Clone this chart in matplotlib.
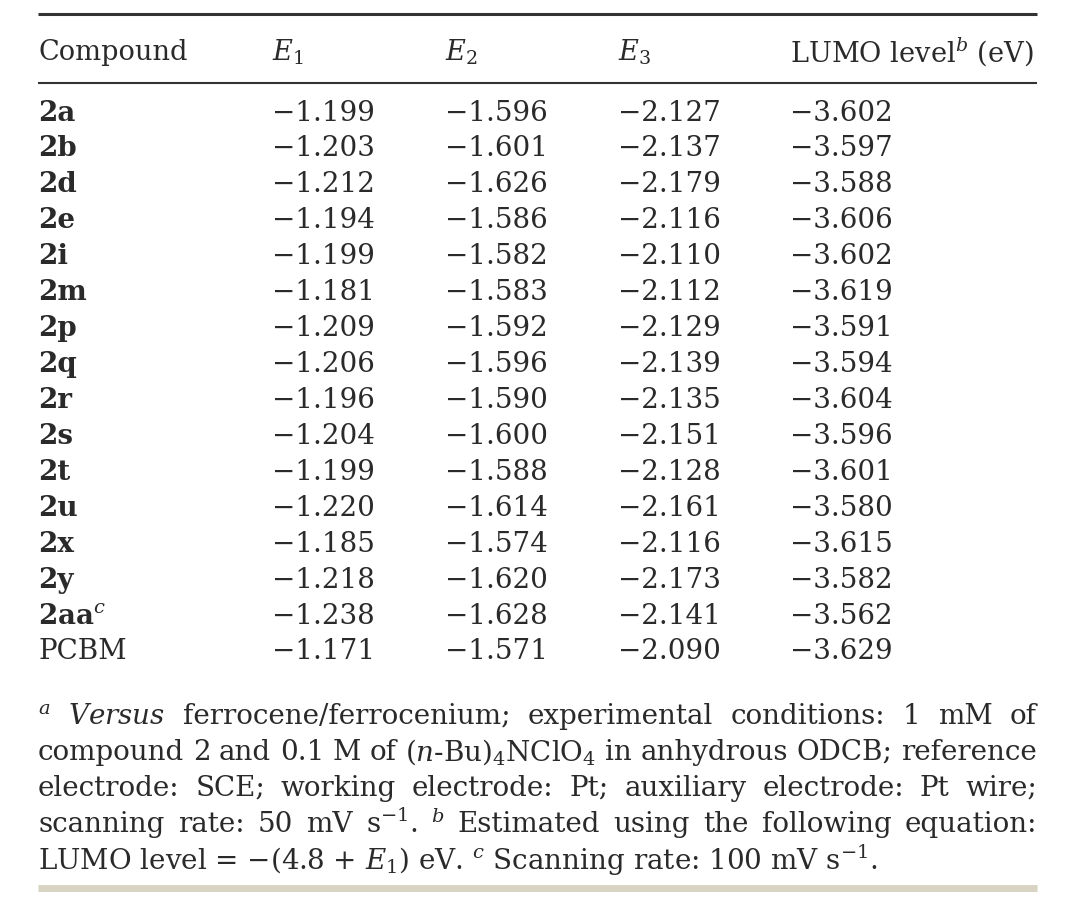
import matplotlib.pyplot as plt

plt.rcParams['font.family'] = 'DejaVu Serif'
plt.rcParams['mathtext.fontset'] = 'dejavuserif'

compounds = ['2a', '2b', '2d', '2e', '2i', '2m', '2p', '2q', '2r', '2s', '2t', '2u', '2x', '2y', '2aa', 'PCBM']
e1 = [-1.199, -1.203, -1.212, -1.194, -1.199, -1.181, -1.209, -1.206, -1.196, -1.204, -1.199, -1.220, -1.185, -1.218, -1.238, -1.171]
e2 = [-1.596, -1.601, -1.626, -1.586, -1.582, -1.583, -1.592, -1.596, -1.590, -1.600, -1.588, -1.614, -1.574, -1.620, -1.628, -1.571]
e3 = [-2.127, -2.137, -2.179, -2.116, -2.110, -2.112, -2.129, -2.139, -2.135, -2.151, -2.128, -2.161, -2.116, -2.173, -2.141, -2.090]
lumo = [-3.602, -3.597, -3.588, -3.606, -3.602, -3.619, -3.591, -3.594, -3.604, -3.596, -3.601, -3.580, -3.615, -3.582, -3.562, -3.629]
headers = ['Compound', '$E_1$', '$E_2$', '$E_3$', 'LUMO level$^{b}$ (eV)']

footnote = [
    r"$^{a}$ $Versus$ ferrocene/ferrocenium; experimental conditions: 1 mM of",
    r"compound 2 and 0.1 M of ($n$-Bu)$_4$NClO$_4$ in anhydrous ODCB; reference",
    r"electrode: SCE; working electrode: Pt; auxiliary electrode: Pt wire;",
    r"scanning rate: 50 mV s$^{-1}$. $^{b}$ Estimated using the following equation:",
    r"LUMO level = −(4.8 + $E_1$) eV. $^{c}$ Scanning rate: 100 mV s$^{-1}$.",
]

W, H = 1080, 897
fig = plt.figure(figsize=(W / 100, H / 100), dpi=100)
fig.patch.set_facecolor('white')
ink = '#2a2a2a'

def fx(x):
    return x / W

def fy(y):
    return 1 - y / H

def hline(y, lw, color, x0=38, x1=1037):
    fig.add_artist(plt.Line2D([fx(x0), fx(x1)], [fy(y), fy(y)], lw=lw, color=color,
                              solid_capstyle='butt'))

hline(14, 2.2, '#333333')
hline(83, 1.5, '#333333')
hline(888, 5, '#d9d3c3')

cols = [38, 272, 445, 618, 790]
fs = 20
for x, h in zip(cols, headers):
    fig.text(fx(x), fy(52), h, fontsize=19.6, color=ink, va='center')

def fmt(v):
    return '−%.3f' % abs(v)

for i, c in enumerate(compounds):
    y = fy(113 + i * 35.93)
    if c == '2aa':
        fig.text(fx(38), y, r'$\mathbf{2aa}^{c}$', fontsize=fs, color=ink, va='center')
    else:
        fig.text(fx(38), y, c, fontsize=fs, color=ink, va='center',
                 fontweight='normal' if c == 'PCBM' else 'bold')
    for x, vals in zip(cols[1:], [e1, e2, e3, lumo]):
        fig.text(fx(x), y, fmt(vals[i]), fontsize=fs, color=ink, va='center')

# justified footnote
fig.canvas.draw()
r = fig.canvas.get_renderer()
for k, line in enumerate(footnote):
    y = fy(716 + k * 36)
    if k == len(footnote) - 1:
        fig.text(fx(38), y, line, fontsize=fs, color=ink, va='center')
        continue
    words = line.split(' ')
    arts = [fig.text(0, y, w, fontsize=fs, color=ink, va='center') for w in words]
    widths = [a.get_window_extent(r).width for a in arts]
    gap = (1037 - 38 - sum(widths)) / (len(words) - 1)
    x = 38
    for a, wd in zip(arts, widths):
        a.set_x(fx(x))
        x += wd + gap

fig.savefig('out.png', dpi=100, facecolor='white')
